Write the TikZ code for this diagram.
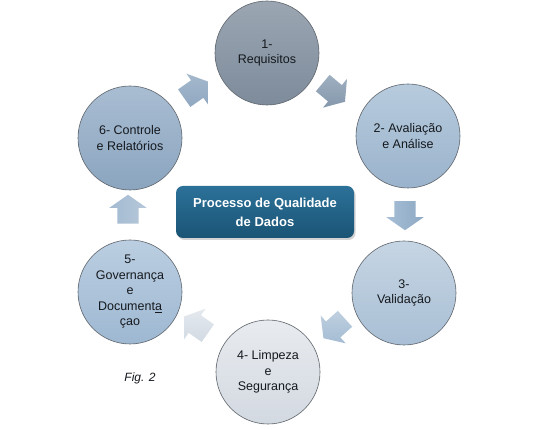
\documentclass[tikz,border=0pt]{standalone}
\usepackage{fontspec}
\setmainfont{Liberation Sans}
\usetikzlibrary{shapes.arrows,shadows}
\definecolor{txt}{HTML}{15191E}
\definecolor{rim}{HTML}{5F656C}
\definecolor{HubTop}{HTML}{2C7199}
\definecolor{HubBot}{HTML}{1A5475}
\definecolor{cOneT}{HTML}{9BA6B2}\definecolor{cOneB}{HTML}{7D8B9B}
\definecolor{cTwoT}{HTML}{B7CBDD}\definecolor{cTwoB}{HTML}{9AB3CC}
\definecolor{cThrT}{HTML}{C6D5E3}\definecolor{cThrB}{HTML}{A9BFD5}
\definecolor{cFouT}{HTML}{E8EBEF}\definecolor{cFouB}{HTML}{D3D9E1}
\definecolor{cFivT}{HTML}{BBCEE1}\definecolor{cFivB}{HTML}{9EB8D2}
\definecolor{cSixT}{HTML}{A9BDD2}\definecolor{cSixB}{HTML}{8BA5BF}
\definecolor{aOneT}{HTML}{9EAFC0}\definecolor{aOneB}{HTML}{8598AC}
\definecolor{aTwoT}{HTML}{A6BED6}\definecolor{aTwoB}{HTML}{8FA9C4}
\definecolor{aThrT}{HTML}{BFD0E0}\definecolor{aThrB}{HTML}{A4BCD3}
\definecolor{aFouT}{HTML}{E4E9EE}\definecolor{aFouB}{HTML}{D2DAE3}
\definecolor{aFivT}{HTML}{A3BAD1}\definecolor{aFivB}{HTML}{B6C8DA}
\definecolor{aSixT}{HTML}{A4B8CC}\definecolor{aSixB}{HTML}{90A8C1}
\tikzset{
  stage/.style={circle, draw=rim, line width=0.6pt, minimum size=104pt, inner sep=0pt,
    align=center, text=txt, font=\fontsize{12.5}{15.5}\selectfont},
  blockarrow/.style={single arrow, draw=none, minimum height=29pt, inner xsep=0pt, inner ysep=10.5pt,
    single arrow head extend=8pt, single arrow tip angle=110, anchor=center},
  hub/.style={rounded corners=7pt, draw=none, minimum width=178pt, minimum height=52pt,
    align=center, text=white, font=\bfseries\fontsize{13}{19}\selectfont,
    top color=HubTop, bottom color=HubBot, drop shadow={opacity=0.35, shadow xshift=1.5pt, shadow yshift=-2pt}}
}
\begin{document}
\begin{tikzpicture}[x=1pt,y=1pt]
\useasboundingbox (0,0) rectangle (540,430);
\fill[white] (0,0) rectangle (540,430);
% stages
\node[stage, top color=cOneT, bottom color=cOneB] (c1) at (267,377) {1-\\Requisitos};
\node[stage, top color=cTwoT, bottom color=cTwoB] (c2) at (408,294) {2- Avaliação\\e Análise};
\node[stage, top color=cThrT, bottom color=cThrB] (c3) at (404,137) {3-\\Validação};
\node[stage, top color=cFouT, bottom color=cFouB] (c4) at (268,58) {4- Limpeza\\e\\Segurança};
\node[stage, top color=cFivT, bottom color=cFivB] (c5) at (130,138) {5-\\Governança\\e\\Document\underline{a}\\çao};
\node[stage, top color=cSixT, bottom color=cSixB] (c6) at (130,292) {6- Controle\\e Relatórios};
% hub
\node[hub] (hub) at (265,218) {Processo de Qualidade\\de Dados};
% arrows
\node[blockarrow, rotate=-40, top color=aOneT, bottom color=aOneB] (a12) at (331,340) {};
\node[blockarrow, rotate=-90, left color=aTwoT, right color=aTwoB] (a23) at (405,218) {};
\node[blockarrow, rotate=-138, top color=aThrT, bottom color=aThrB] (a34) at (337,104) {};
\node[blockarrow, rotate=145, top color=aFouT, bottom color=aFouB] (a45) at (199,103) {};
\node[blockarrow, rotate=90, left color=aFivT, right color=aFivB] (a56) at (128,217) {};
\node[blockarrow, rotate=35, top color=aSixT, bottom color=aSixB] (a61) at (193,338) {};
% caption
\node[font=\itshape\fontsize{12}{14}\selectfont, text=txt] (fig) at (140,52) {Fig. 2};
\end{tikzpicture}
\end{document}
